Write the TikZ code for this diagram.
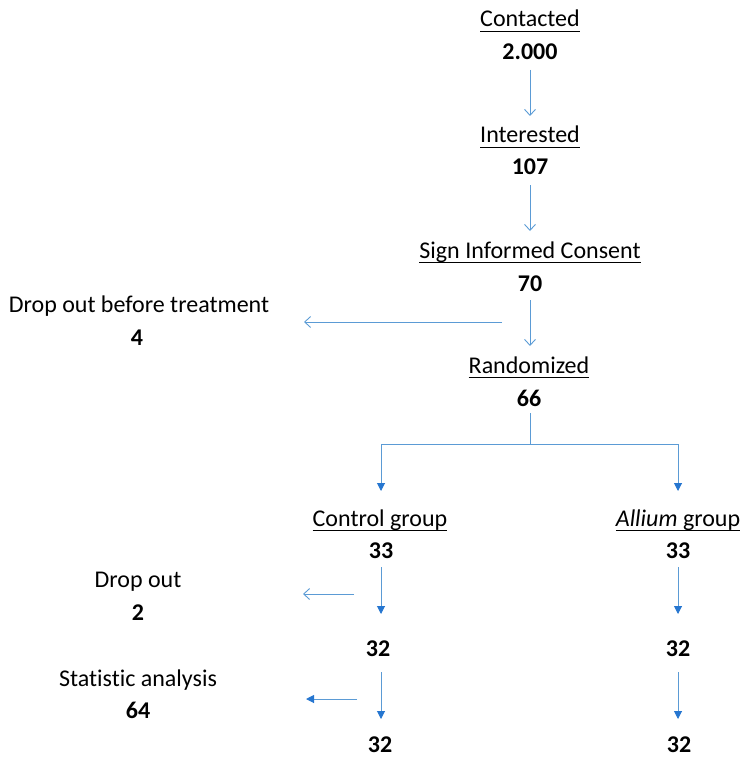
\documentclass[tikz,border=0pt]{standalone}
\usepackage{fontspec}
\setmainfont{Carlito}[Ligatures=NoCommon]
\usetikzlibrary{arrows.meta}
\definecolor{lineblue}{RGB}{91,155,213}
\definecolor{tipblue}{RGB}{38,118,208}
\newcommand{\myul}[1]{\leavevmode\setbox0\hbox{#1}\rlap{\rule[-4.8pt]{\wd0}{1.1pt}}\box0}
\tikzset{
  lbl/.style={anchor=base, inner sep=0pt, font=\fontsize{24}{28}\selectfont},
  num/.style={anchor=base, inner sep=0pt, font=\fontsize{24}{28}\selectfont\bfseries},
  openarr/.style={draw=lineblue, line width=1pt, -{Straight Barb[length=6pt,width=11pt,line width=0.9pt]}},
  fillarr/.style={draw=lineblue, line width=1pt, -{Triangle[length=8pt,width=8pt,color=tipblue]}},
  plainline/.style={draw=lineblue, line width=1pt}
}
\begin{document}
\begin{tikzpicture}[x=1pt,y=-1pt]
\useasboundingbox (0,0) rectangle (750,762);
% main column
\node[lbl] (cont) at (530,27) {\myul{Contacted}};
\node[num] (cont n) at (530,60) {2.000};
\node[lbl] (int) at (530,143) {\myul{Interested}};
\node[num] (int n) at (530,175) {107};
\node[lbl] (sign) at (530,258) {\myul{Sign Informed Consent}};
\node[num] (sign n) at (530,291) {70};
\node[lbl] (rand) at (529,373) {\myul{Randomized}};
\node[num] (rand n) at (529,406) {66};
\node[lbl] (dobt) at (139,312) {Drop out before treatment};
\node[num] (dobt n) at (137,345) {4};
% groups
\node[lbl] (ctrl) at (380,526) {\myul{Control group}};
\node[num] (ctrl n) at (381,558) {33};
\node[num] (ctrl a) at (378,656) {32};
\node[num] (ctrl b) at (380,752) {32};
\node[lbl] (all) at (678,526) {\myul{\itshape Allium\upshape\ group}};
\node[num] (all n) at (678,558) {33};
\node[num] (all a) at (678,656) {32};
\node[num] (all b) at (679,752) {32};
\node[lbl] (drop) at (138,587) {Drop out};
\node[num] (drop n) at (138,620) {2};
\node[lbl] (stat) at (138,686) {Statistic analysis};
\node[num] (stat n) at (138,718) {64};
% connector coordinates
\coordinate (a1s) at (530,70);  \coordinate (a1e) at (530,116);
\coordinate (a2s) at (530,185); \coordinate (a2e) at (530,231);
\coordinate (a3s) at (530,300); \coordinate (a3e) at (530,346);
\coordinate (h1s) at (502,322); \coordinate (h1e) at (304,322);
\coordinate (rs) at (530,413);  \coordinate (rj) at (530,444);
\coordinate (lj) at (381,444);  \coordinate (le) at (381,491);
\coordinate (rgj) at (678,444); \coordinate (rge) at (678,491);
\coordinate (c1s) at (381,567); \coordinate (c1e) at (381,614);
\coordinate (c2s) at (381,672); \coordinate (c2e) at (381,719);
\coordinate (g1s) at (678,567); \coordinate (g1e) at (678,614);
\coordinate (g2s) at (678,672); \coordinate (g2e) at (678,719);
\coordinate (h2s) at (354,594); \coordinate (h2e) at (303,594);
\coordinate (h3s) at (357,699); \coordinate (h3e) at (306,699);
% connectors
\draw[openarr] (a1s) -- (a1e);
\draw[openarr] (a2s) -- (a2e);
\draw[openarr] (a3s) -- (a3e);
\draw[openarr] (h1s) -- (h1e);
\draw[plainline] (rs) -- (rj);
\draw[plainline] (lj) -- (rgj);
\draw[fillarr] (lj) -- (le);
\draw[fillarr] (rgj) -- (rge);
\draw[fillarr] (c1s) -- (c1e);
\draw[fillarr] (c2s) -- (c2e);
\draw[fillarr] (g1s) -- (g1e);
\draw[fillarr] (g2s) -- (g2e);
\draw[openarr] (h2s) -- (h2e);
\draw[fillarr] (h3s) -- (h3e);
\end{tikzpicture}
\end{document}
